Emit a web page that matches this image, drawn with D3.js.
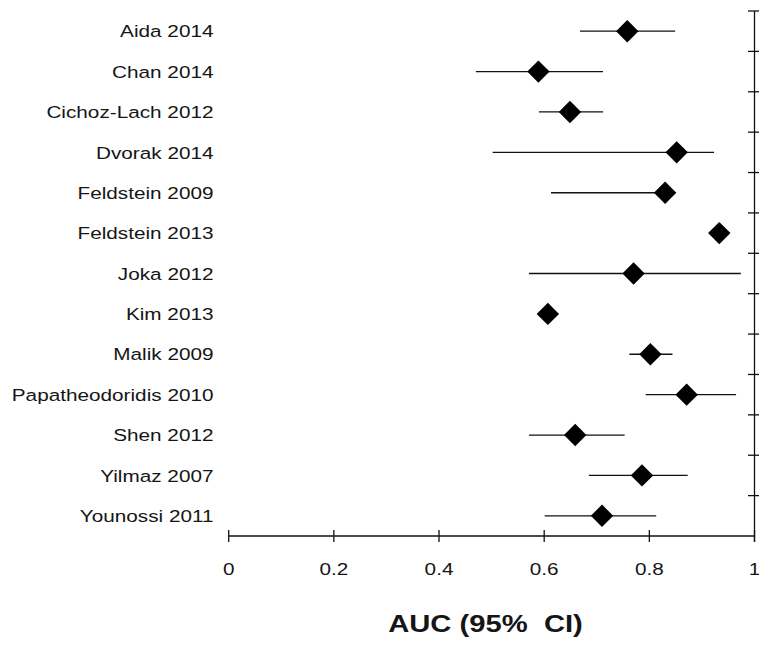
<!DOCTYPE html>
<html>
<head>
<meta charset="utf-8">
<script src="https://cdn.jsdelivr.net/npm/d3@7"></script>
<style>
  html, body { margin: 0; padding: 0; background: #fff; }
  svg { display: block; }
  text { font-family: "Liberation Sans", Arial, sans-serif; fill: #151515; }
</style>
</head>
<body>
<svg id="chart" width="759" height="646"></svg>
<script>
const studies = ["Aida 2014", "Chan 2014", "Cichoz-Lach 2012", "Dvorak 2014", "Feldstein 2009",
  "Feldstein 2013", "Joka 2012", "Kim 2013", "Malik 2009", "Papatheodoridis 2010",
  "Shen 2012", "Yilmaz 2007", "Younossi 2011"];
const auc   = [0.758, 0.589, 0.649, 0.852, 0.830, 0.933, 0.770, 0.607, 0.802, 0.871, 0.659, 0.786, 0.710];
const lower = [0.668, 0.470, 0.590, 0.502, 0.613, 0.915, 0.571, 0.590, 0.762, 0.793, 0.571, 0.685, 0.601];
const upper = [0.849, 0.712, 0.712, 0.923, 0.840, 0.950, 0.974, 0.625, 0.844, 0.965, 0.753, 0.873, 0.813];
const xTicks = [0, 0.2, 0.4, 0.6, 0.8, 1];
const xTitle = "AUC (95%  CI)";

const svg = d3.select("#chart");
const x = d3.scaleLinear().domain([0, 1]).range([228.7, 754.5]);
const y = d3.scaleBand().domain(studies).range([11, 536]);
const yc = d => y(d) + y.bandwidth() / 2;
const SX = 1.22;

// Right axis with boundary ticks
const ra = svg.append("g");
ra.append("line").attr("x1", x(1)).attr("x2", x(1)).attr("y1", y.range()[0]).attr("y2", 542)
  .attr("stroke", "#111").attr("stroke-width", 1.3);
const bounds = studies.map(s => y(s));
ra.selectAll("line.t").data(bounds).join("line").attr("class", "t")
  .attr("x1", x(1) - 6.5).attr("x2", x(1) + 6.5)
  .attr("y1", d => d).attr("y2", d => d)
  .attr("stroke", "#111").attr("stroke-width", 1.3);

// Bottom axis
const ba = svg.append("g");
ba.append("line").attr("x1", x(0)).attr("x2", x(1)).attr("y1", 536).attr("y2", 536)
  .attr("stroke", "#111").attr("stroke-width", 1.3);
ba.selectAll("line.t").data(xTicks).join("line").attr("class", "t")
  .attr("x1", d => x(d)).attr("x2", d => x(d)).attr("y1", 530).attr("y2", 542)
  .attr("stroke", "#111").attr("stroke-width", 1.3);
ba.selectAll("text").data(xTicks).join("text")
  .attr("transform", d => `translate(${x(d)},575) scale(${SX},1)`)
  .attr("text-anchor", "middle")
  .style("font-size", "17px")
  .text(d => d3.format("")(d));

// Study labels
svg.append("g").selectAll("text").data(studies).join("text")
  .attr("transform", d => `translate(213.5,${yc(d) + 6.2}) scale(${SX},1)`)
  .attr("text-anchor", "end")
  .style("font-size", "17px")
  .text(d => d);

// CI lines
const rows = studies.map((s, i) => ({ s, auc: auc[i], lo: lower[i], hi: upper[i] }));
svg.append("g").selectAll("line").data(rows).join("line")
  .attr("x1", d => x(d.lo)).attr("x2", d => x(d.hi))
  .attr("y1", d => yc(d.s)).attr("y2", d => yc(d.s))
  .attr("stroke", "#111").attr("stroke-width", 1.3);

// Diamonds
const r = 11.2;
svg.append("g").selectAll("path").data(rows).join("path")
  .attr("d", d => {
    const cx = x(d.auc), cy = yc(d.s);
    return `M${cx},${cy - r}L${cx + r},${cy}L${cx},${cy + r}L${cx - r},${cy}Z`;
  })
  .attr("fill", "#000");

// Axis title
svg.append("text")
  .attr("transform", `translate(485.5,632) scale(1.27,1)`)
  .attr("text-anchor", "middle")
  .style("font-size", "23px").style("font-weight", "bold")
  .style("white-space", "pre")
  .text(xTitle);
</script>
</body>
</html>
